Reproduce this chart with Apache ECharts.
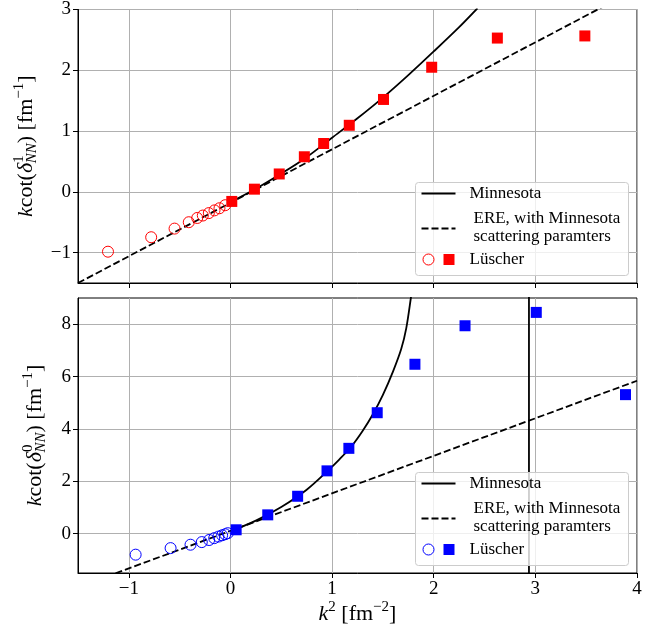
<!DOCTYPE html>
<html>
<head>
<meta charset="utf-8">
<script src="https://cdn.jsdelivr.net/npm/echarts@6/dist/echarts.min.js"></script>
<style>html,body{margin:0;padding:0;background:#fff}#graph{width:667px;height:630px}</style>
</head>
<body>
<div id="graph"></div>
<script>
"use strict"

// ---- data: x = k^2 [fm^-2], y = kcot(delta) [fm^-1]
// triplet (upper panel)
const triCurveK2 = [0, 0.25, 0.5, 0.75, 1.0, 1.25, 1.5, 1.75, 2.0, 2.25, 2.43];
const triCurveVal = [-0.17, 0.05, 0.30, 0.57, 0.89, 1.21, 1.55, 1.92, 2.31, 2.71, 3.02];
const triEreK2 = [-1.5, 4.0];
const triEreVal = [-1.50, 3.34];
const triNegK2 = [-1.205, -0.78, -0.55, -0.41, -0.327, -0.272, -0.213, -0.157, -0.108, -0.052];
const triNegVal = [-0.985, -0.747, -0.605, -0.50, -0.43, -0.39, -0.35, -0.305, -0.27, -0.22];
const triPosK2 = [0.013, 0.236, 0.48, 0.727, 0.917, 1.169, 1.506, 1.98, 2.626, 3.487];
const triPosVal = [-0.158, 0.044, 0.294, 0.577, 0.795, 1.095, 1.52, 2.05, 2.53, 2.565];

// singlet (lower panel)
const sinCurveK2 = [0, 0.25, 0.5, 0.75, 0.97, 1.07, 1.19, 1.30, 1.40, 1.50, 1.60, 1.68, 1.73, 1.775, 1.80];
const sinCurveVal = [0.09, 0.50, 1.02, 1.68, 2.45, 2.83, 3.33, 3.92, 4.55, 5.30, 6.20, 7.05, 7.85, 9.0, 9.7];
const sinPoleK2 = 2.937;
const sinEreK2 = [-1.5, 4.0];
const sinEreVal = [-2.04, 5.84];
const sinNegK2 = [-0.933, -0.589, -0.393, -0.282, -0.21, -0.16, -0.118, -0.082, -0.052, -0.026];
const sinNegVal = [-0.80, -0.55, -0.42, -0.32, -0.24, -0.17, -0.11, -0.06, -0.02, 0.02];
const sinPosK2 = [0.056, 0.367, 0.661, 0.95, 1.165, 1.444, 1.815, 2.308, 3.009, 3.887];
const sinPosVal = [0.15, 0.72, 1.43, 2.40, 3.26, 4.62, 6.47, 7.94, 8.45, 5.31];

const xTicks = [-1, 0, 1, 2, 3, 4];
const triTicks = [-1, 0, 1, 2, 3];
const sinTicks = [0, 2, 4, 6, 8];

const legendNames = ["Minnesota", "ERE, with Minnesota", "scattering paramters", "Lüscher"];

const FONT = "Liberation Serif";
const zip = (a, b) => a.map((v, i) => [v, b[i]]);
const minus = v => (v < 0 ? "\u2212" + Math.abs(v) : String(v));

const richLbl = {
    n: { fontFamily: FONT, fontSize: 22, lineHeight: 28, color: "#000" },
    i: { fontFamily: FONT, fontSize: 22, lineHeight: 28, fontStyle: "italic", color: "#000" },
    sup: { fontFamily: FONT, fontSize: 15, lineHeight: 14, verticalAlign: "top", color: "#000" },
    sub: { fontFamily: FONT, fontSize: 15, lineHeight: 12, verticalAlign: "bottom", fontStyle: "italic", color: "#000", padding: [0, 0, 0, -8] }
};

function xAxis(grid, labels)
{
    return {
        type: "value", gridIndex: grid, min: -1.5, max: 4,
        axisLine: { onZero: false, lineStyle: { color: "#000", width: 1 } },
        axisTick: { customValues: xTicks, length: 5, lineStyle: { color: "#000" } },
        axisLabel: { show: labels, customValues: xTicks, formatter: minus, fontFamily: FONT, fontSize: 19, color: "#000", margin: 7 },
        splitLine: { show: true, lineStyle: { color: "#b0b0b0", width: 1 } },
        name: labels ? "{i|k}{sup|2}{n| [fm}{sup|\u22122}{n|]}" : "",
        nameLocation: "middle", nameGap: 27,
        nameTextStyle: { rich: richLbl }
    };
}

function yAxis(grid, min, max, ticks, name)
{
    return {
        type: "value", gridIndex: grid, min: min, max: max,
        axisLine: { onZero: false, lineStyle: { color: "#000", width: 1 } },
        axisTick: { customValues: ticks, length: 5, lineStyle: { color: "#000" } },
        axisLabel: { customValues: ticks, formatter: minus, fontFamily: FONT, fontSize: 19, color: "#000", margin: 7 },
        splitLine: { show: true, lineStyle: { color: "#b0b0b0", width: 1 } },
        name: name, nameLocation: "middle", nameRotate: 90, nameGap: 29,
        nameTextStyle: { rich: richLbl }
    };
}

const lineOf = (xi, data, dashed) => ({
    type: "line", xAxisIndex: xi, yAxisIndex: xi, data: data, smooth: dashed ? false : 0.3,
    showSymbol: false, symbol: "none", silent: true, z: 2,
    lineStyle: { color: "#000", width: 1.8, type: dashed ? [7, 3] : "solid" }
});
const openPts = (xi, data, c) => ({
    type: "scatter", xAxisIndex: xi, yAxisIndex: xi, data: data, symbol: "circle", symbolSize: 11, z: 3,
    itemStyle: { color: "rgba(0,0,0,0)", borderColor: c, borderWidth: 1, opacity: 1 }
});
const fullPts = (xi, data, c) => ({
    type: "scatter", xAxisIndex: xi, yAxisIndex: xi, data: data, symbol: "rect", symbolSize: 11, z: 3,
    itemStyle: { color: c, opacity: 1 }
});

function legendBox(top, c)
{
    const txt = (t, x, y) => ({ type: "text", x: x, y: y, z: 101, style: { text: t, font: "17px '" + FONT + "'", fill: "#000", verticalAlign: "middle" } });
    return {
        type: "group", left: 415, top: top, z: 100,
        children: [
            { type: "rect", z: 100, shape: { x: 0, y: 0, width: 213, height: 93, r: 3 }, style: { fill: "rgba(255,255,255,0.8)", stroke: "#cccccc", lineWidth: 1 } },
            { type: "line", z: 101, shape: { x1: 6, y1: 11, x2: 40, y2: 11 }, style: { stroke: "#000", lineWidth: 1.8 } },
            txt(legendNames[0], 54, 11),
            { type: "line", z: 101, shape: { x1: 6, y1: 46, x2: 40, y2: 46 }, style: { stroke: "#000", lineWidth: 1.8, lineDash: [7, 3] } },
            txt(legendNames[1], 58, 36),
            txt(legendNames[2], 58, 54),
            { type: "circle", z: 101, shape: { cx: 13, cy: 77, r: 5.5 }, style: { fill: "none", stroke: c, lineWidth: 1 } },
            { type: "rect", z: 101, shape: { x: 28, y: 71.5, width: 11, height: 11 }, style: { fill: c } },
            txt(legendNames[3], 54, 77)
        ]
    };
}

const myChart = echarts.init(document.getElementById("graph"), null, { renderer: "canvas" });
myChart.setOption({
    animation: false,
    backgroundColor: "#fff",
    grid: [
        { left: 78, right: 30, top: 8, height: 275, show: true, borderColor: "#000", borderWidth: 1, backgroundColor: "transparent" },
        { left: 78, right: 30, top: 298, height: 275, show: true, borderColor: "#000", borderWidth: 1, backgroundColor: "transparent" }
    ],
    xAxis: [xAxis(0, false), xAxis(1, true)],
    yAxis: [
        yAxis(0, -1.5, 3, triTicks, "{i|k}{n|cot(}{i|\u03b4}{sup|1}{sub|NN}{n|) [fm}{sup|\u22121}{n|]}"),
        yAxis(1, -1.5, 9, sinTicks, "{i|k}{n|cot(}{i|\u03b4}{sup|0}{sub|NN}{n|) [fm}{sup|\u22121}{n|]}")
    ],
    series: [
        lineOf(0, zip(triCurveK2, triCurveVal), false),
        lineOf(0, zip(triEreK2, triEreVal), true),
        openPts(0, zip(triNegK2, triNegVal), "#ff0000"),
        fullPts(0, zip(triPosK2, triPosVal), "#ff0000"),
        lineOf(1, zip(sinCurveK2, sinCurveVal), false),
        lineOf(1, [[sinPoleK2, -2], [sinPoleK2, 10]], false),
        lineOf(1, zip(sinEreK2, sinEreVal), true),
        openPts(1, zip(sinNegK2, sinNegVal), "#0000ff"),
        fullPts(1, zip(sinPosK2, sinPosVal), "#0000ff")
    ],
    graphic: [legendBox(182, "#ff0000"), legendBox(472, "#0000ff")]
});
</script>
</body>
</html>
